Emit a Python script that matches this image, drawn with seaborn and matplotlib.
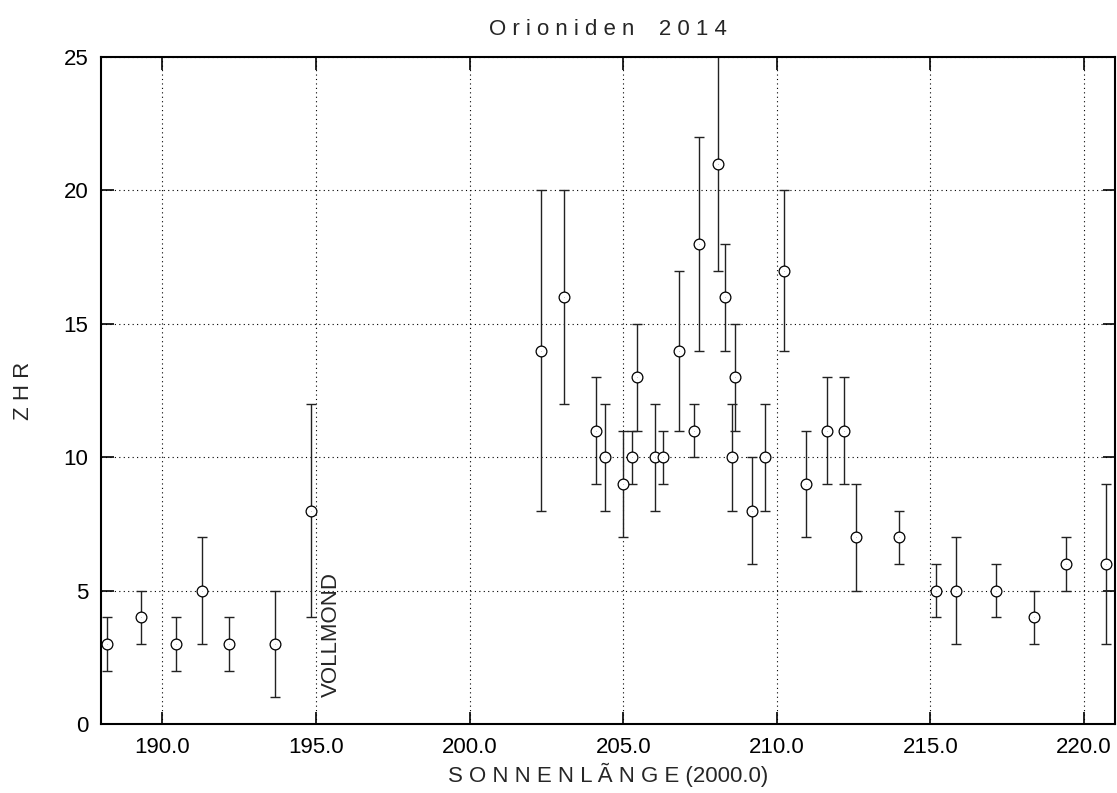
import numpy as np
import pandas as pd
import seaborn as sns
import matplotlib.pyplot as plt

# Sonnenlaenge, ZHR und Fehlergrenzen
sol = [188.2, 189.3, 190.43, 191.28, 192.16, 193.65, 194.85,
       202.32, 203.06, 204.1, 204.4, 205.0, 205.3, 205.44, 206.05, 206.3,
       206.83, 207.29, 207.48, 208.1, 208.3, 208.55, 208.65, 209.2, 209.6,
       210.24, 210.95, 211.64, 212.19, 212.58, 213.97, 215.18, 215.82,
       217.12, 218.36, 219.4, 220.7]
zhr = [3, 4, 3, 5, 3, 3, 8,
       14, 16, 11, 10, 9, 10, 13, 10, 10,
       14, 11, 18, 21, 16, 10, 13, 8, 10,
       17, 9, 11, 11, 7, 7, 5, 5,
       5, 4, 6, 6]
zhr_lo = [2, 3, 2, 3, 2, 1, 4,
          8, 12, 9, 8, 7, 9, 11, 8, 9,
          11, 10, 14, 17, 14, 8, 11, 6, 8,
          14, 7, 9, 9, 5, 6, 4, 3,
          4, 3, 5, 3]
zhr_hi = [4, 5, 4, 7, 4, 5, 12,
          20, 20, 13, 12, 11, 11, 15, 12, 11,
          17, 12, 22, 26, 18, 12, 15, 10, 12,
          20, 11, 13, 13, 9, 8, 6, 7,
          6, 5, 7, 9]

df = pd.DataFrame({"sol": sol, "zhr": zhr, "lo": zhr_lo, "hi": zhr_hi})

sns.set_style("ticks")
plt.rcParams['font.family'] = ['Liberation Sans', 'DejaVu Sans']

fig = plt.figure(figsize=(11.17, 7.93), dpi=100)
ax = fig.add_axes([0.0904, 0.087, 0.9076, 0.841])

ax.errorbar(df.sol, df.zhr,
            yerr=[df.zhr - df.lo, df.hi - df.zhr],
            fmt="none", ecolor="#222222", elinewidth=1.0,
            capsize=3.6, capthick=1.0, zorder=2)
sns.scatterplot(data=df, x="sol", y="zhr", ax=ax, marker="o", s=60,
                facecolor="white", edgecolor="black", linewidth=0.9, zorder=3)
sns.scatterplot(data=df, x="sol", y="zhr", ax=ax, marker=".", s=2,
                color="black", linewidth=0, zorder=4)

ax.set_xlim(188.0, 221.0)
ax.set_ylim(0, 25)
ax.set_xticks([190, 195, 200, 205, 210, 215, 220])
ax.set_xticklabels(["190.0", "195.0", "200.0", "205.0", "210.0", "215.0", "220.0"])
ax.set_yticks([0, 5, 10, 15, 20, 25])

ax.grid(True, linestyle=(0, (1, 3)), color="black", linewidth=0.8)
ax.tick_params(direction="in", length=9, width=1.2, top=True, right=True,
               labelsize=16, pad=9, colors="black")
for sp in ax.spines.values():
    sp.set_linewidth(1.5)
    sp.set_color("black")

ax.set_title("O r i o n i d e n    2 0 1 4", fontsize=16, pad=16)
ax.set_xlabel("S O N N E N L Ã N G E (2000.0)", fontsize=16, labelpad=4)
ax.set_ylabel("Z H R", fontsize=16, labelpad=21)

ax.text(195.15, 1.0, "VOLLMOND", rotation=90, fontsize=16,
        ha="left", va="bottom")

fig.savefig("out.png", dpi=100)
